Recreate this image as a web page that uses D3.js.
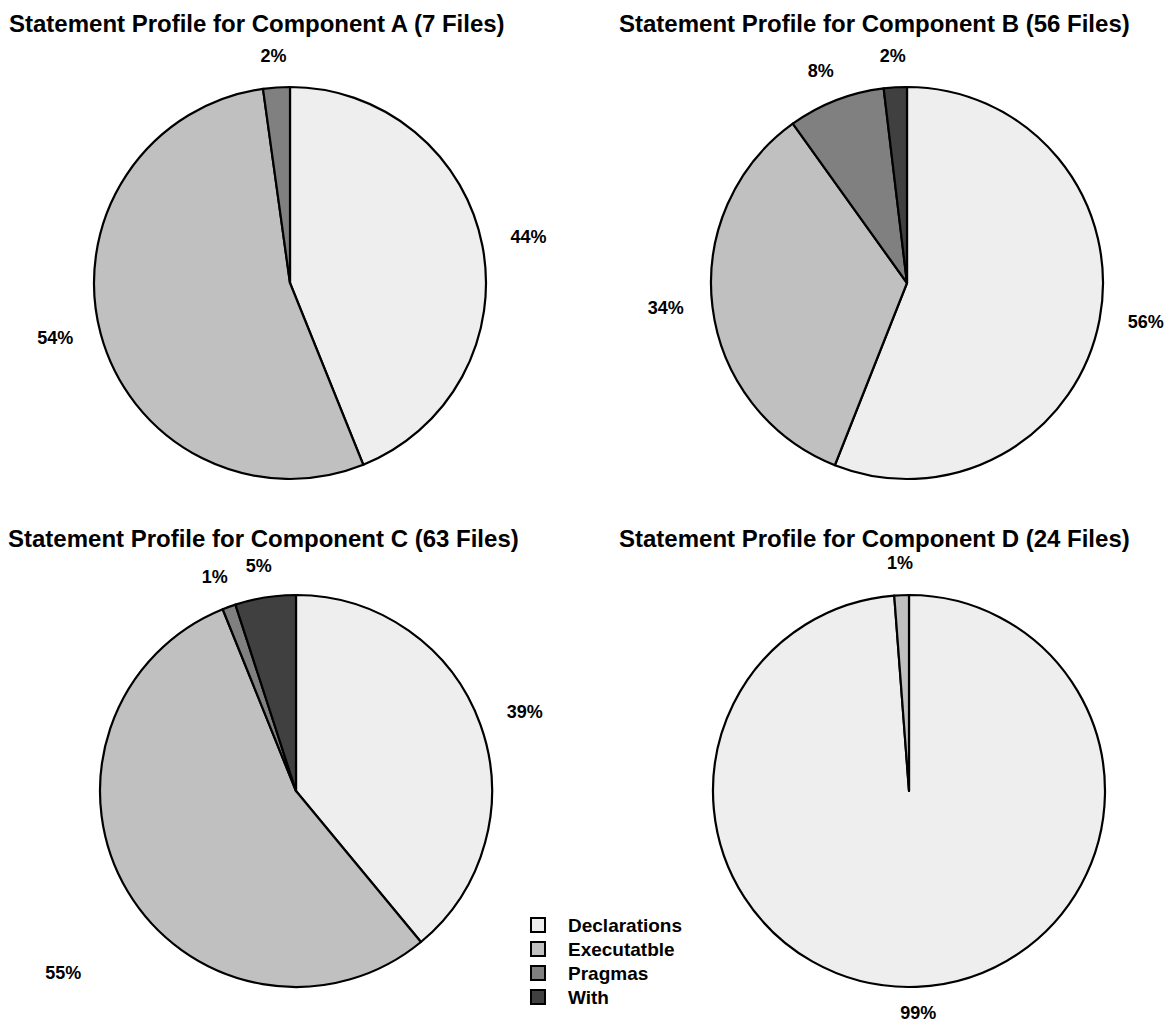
<!DOCTYPE html>
<html>
<head>
<meta charset="utf-8">
<script src="https://cdn.jsdelivr.net/npm/d3@7"></script>
<style>
  html, body { margin: 0; padding: 0; background: #ffffff; }
  svg { display: block; font-family: "Liberation Sans", Arial, Helvetica, sans-serif; font-weight: bold; }
</style>
</head>
<body>
<svg id="chart" width="1171" height="1023"></svg>
<script>
// ---- data ----
const categories = ["Declarations", "Executatble", "Pragmas", "With"];
const components = ["A", "B", "C", "D"];
const fileCounts = [7, 56, 63, 24];
const valuesA = [43.9, 53.9, 2.2, 0];
const valuesB = [56.0, 34.1, 8.0, 1.9];
const valuesC = [39.0, 54.9, 1.1, 5.0];
const valuesD = [98.8, 1.2, 0, 0];
const colors = ["#eeeeee", "#c0c0c0", "#808080", "#404040"];

// ---- layout ----
const radius = 196;
const panels = [
  { values: valuesA, cx: 290, cy: 283, tx: 9,   ty: 32,  nudge: {} },
  { values: valuesB, cx: 907, cy: 283, tx: 619, ty: 32,  nudge: {} },
  { values: valuesC, cx: 296, cy: 791, tx: 8,   ty: 547, nudge: { "Executatble": [-24, 70] } },
  { values: valuesD, cx: 909, cy: 791, tx: 619, ty: 547, nudge: {} }
];

const svg = d3.select("#chart");
const color = d3.scaleOrdinal().domain(categories).range(colors);
const pie = d3.pie().sort(null).value(d => d.value);
const arc = d3.arc().innerRadius(0).outerRadius(radius);
const pct = d3.format(".0%");

panels.forEach((p, i) => {
  svg.append("text")
    .attr("x", p.tx).attr("y", p.ty)
    .attr("font-size", 24)
    .attr("fill", "#000")
    .text(`Statement Profile for Component ${components[i]} (${fileCounts[i]} Files)`);

  const total = d3.sum(p.values);
  const data = categories.map((c, k) => ({ cat: c, value: p.values[k] }));
  const arcs = pie(data).filter(a => a.data.value > 0);

  const g = svg.append("g").attr("transform", `translate(${p.cx},${p.cy})`);
  g.selectAll("path")
    .data(arcs)
    .join("path")
    .attr("d", arc)
    .attr("fill", d => color(d.data.cat))
    .attr("stroke", "#000")
    .attr("stroke-width", 2.2)
    .attr("stroke-linejoin", "round");

  const R = radius + 29;
  g.selectAll("text.lbl")
    .data(arcs)
    .join("text")
    .attr("class", "lbl")
    .attr("font-size", 18)
    .attr("fill", "#000")
    .attr("text-anchor", "middle")
    .attr("dy", "0.35em")
    .text(d => pct(d.data.value / total))
    .each(function(d) {
      const a = (d.startAngle + d.endAngle) / 2;
      const s = Math.sin(a), c = Math.cos(a);
      const w = this.getComputedTextLength();
      const n = p.nudge[d.data.cat] || [0, 0];
      const x = R * s + (w / 2) * s + n[0];
      const y = -R * c - 3 + n[1];
      d3.select(this).attr("x", x).attr("y", y);
    });
});

// ---- legend ----
const legend = svg.append("g").attr("transform", "translate(530,917)");
const row = legend.selectAll("g")
  .data(categories)
  .join("g")
  .attr("transform", (d, i) => `translate(0,${i * 24})`);
row.append("rect")
  .attr("x", 1).attr("y", 1)
  .attr("width", 14).attr("height", 14)
  .attr("fill", d => color(d))
  .attr("stroke", "#000")
  .attr("stroke-width", 2);
row.append("text")
  .attr("x", 38).attr("y", 8)
  .attr("dy", "0.35em")
  .attr("font-size", 19)
  .attr("fill", "#000")
  .text(d => d);
</script>
</body>
</html>
